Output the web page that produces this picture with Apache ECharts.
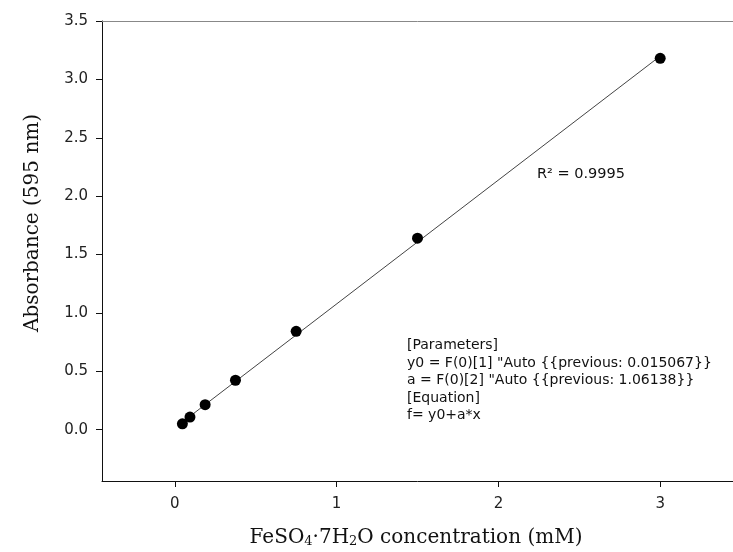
<!DOCTYPE html>
<html>
<head>
<meta charset="utf-8">
<script src="https://cdn.jsdelivr.net/npm/echarts@6/dist/echarts.min.js"></script>
<style>html,body{margin:0;padding:0;background:#fff}#c{width:733px;height:552px}</style>
</head>
<body>
<div id="c"></div>
<script>
// Data
const concX = [0.046875, 0.09375, 0.1875, 0.375, 0.75, 1.5, 3.0];
const absY  = [0.05, 0.108, 0.214, 0.423, 0.842, 1.64, 3.18];
// Fitted regression line end points (y0 = 0.015067, a = 1.06138)
const fitX = [0.046875, 3.0];
const fitY = [0.0648, 3.1992];
// Tick labels
const xTicks = [0, 1, 2, 3];
const yTicks = [0, 0.5, 1.0, 1.5, 2.0, 2.5, 3.0, 3.5];
const annR2 = 'R² = 0.9995';
const annParams = [
  '[Parameters]',
  'y0 = F(0)[1] "Auto {{previous: 0.015067}}',
  'a = F(0)[2] "Auto {{previous: 1.06138}}',
  '[Equation]',
  'f= y0+a*x'
];

const chart = echarts.init(document.getElementById('c'), null, {renderer: 'canvas'});
const tickFont = {fontFamily: 'DejaVu Sans, sans-serif', fontSize: 15, color: '#222'};
const annFont = 'DejaVu Sans, sans-serif';
const serif = 'DejaVu Serif, serif';

chart.setOption({
  animation: false,
  backgroundColor: '#fff',
  grid: {left: 102, top: 21, right: -1, bottom: 71, containLabel: false},
  xAxis: [{
    type: 'value', min: -0.45, max: 3.45, position: 'bottom',
    axisLine: {show: true, onZero: false, lineStyle: {color: '#111', width: 1}},
    axisTick: {show: true, inside: false, length: 6, customValues: xTicks, lineStyle: {color: '#111'}},
    axisLabel: Object.assign({customValues: xTicks, margin: 16, formatter: v => String(v)}, tickFont),
    splitLine: {show: false}
  }, {
    type: 'value', min: -0.45, max: 3.45, position: 'top',
    axisLine: {show: true, onZero: false, lineStyle: {color: '#888', width: 1}},
    axisTick: {show: false}, axisLabel: {show: false}, splitLine: {show: false}
  }],
  yAxis: [{
    type: 'value', min: -0.44, max: 3.5,
    axisLine: {show: true, onZero: false, lineStyle: {color: '#111', width: 1}},
    axisTick: {show: true, inside: false, length: 6, customValues: yTicks, lineStyle: {color: '#111'}},
    axisLabel: Object.assign({customValues: yTicks, margin: 14, formatter: v => v.toFixed(1)}, tickFont),
    splitLine: {show: false}
  }],
  series: [{
    type: 'line',
    data: fitX.map((x, i) => [x, fitY[i]]),
    showSymbol: false, symbol: 'none',
    lineStyle: {color: '#444', width: 1},
    z: 2
  }, {
    type: 'scatter',
    data: concX.map((x, i) => [x, absY[i]]),
    symbol: 'circle', symbolSize: 11,
    itemStyle: {color: '#000', opacity: 1},
    z: 3
  }],
  graphic: [
    {type: 'text', left: 537, top: 167, style: {text: annR2, font: '14.5px ' + annFont, fill: '#111'}},
    {type: 'text', left: 407, top: 337, style: {text: annParams.join('\n'), font: '14px ' + annFont, lineHeight: 17.5, fill: '#111'}},
    {type: 'text', x: 33, y: 223, rotation: Math.PI / 2,
      style: {text: 'Absorbance (595 nm)', font: '20px ' + serif, fill: '#111', align: 'center', verticalAlign: 'middle'}},
    {type: 'text', x: 416, y: 538,
      style: {
        text: '{n|FeSO}{s|4}{n|·7H}{s|2}{n|O concentration (mM)}',
        align: 'center', verticalAlign: 'middle',
        rich: {
          n: {font: '20px ' + serif, fill: '#111'},
          s: {font: '13px ' + serif, fill: '#111', padding: [8, 0, 0, 0]}
        }
      }}
  ]
});
</script>
</body>
</html>
